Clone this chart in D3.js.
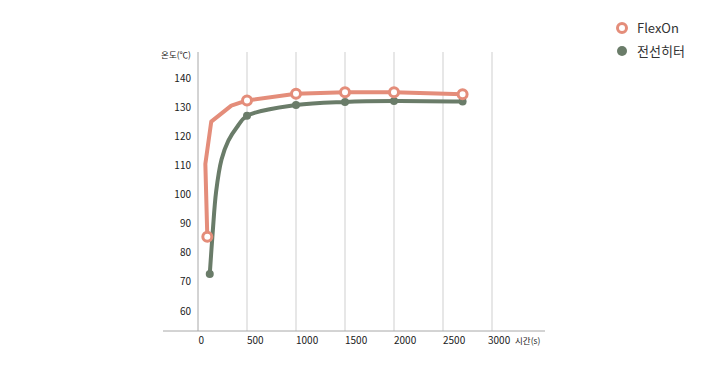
<!DOCTYPE html>
<html><head><meta charset="utf-8">
<script src="https://cdn.jsdelivr.net/npm/d3@7/dist/d3.min.js"></script>
<style>
html,body{margin:0;padding:0;background:#fff;}
svg{display:block;font-family:"Noto Sans CJK KR","Noto Sans",sans-serif;}
</style></head>
<body>
<svg id="chart" width="708" height="380"></svg>
<script>
// ---- data ----
const xTicks = [0, 500, 1000, 1500, 2000, 2500, 3000];
const yTicks = [60, 70, 80, 90, 100, 110, 120, 130, 140];
const seriesNames = ["FlexOn", "전선히터"];
const flexOnLine = [[95, 85.5], [75, 110.5], [135, 125], [340, 130.5], [500, 132.3], [1000, 134.6], [1500, 135.1], [2000, 135.1], [2700, 134.4]];
const flexOnMarkers = [[95, 85.5], [500, 132.3], [1000, 134.6], [1500, 135.1], [2000, 135.1], [2700, 134.4]];
const heaterLine = [[120, 72.7], [150, 87], [185, 101], [240, 112], [310, 118.5], [395, 123], [500, 127], [1000, 130.7], [1500, 131.8], [2000, 132.1], [2700, 131.9]];
const heaterMarkers = [[120, 72.7], [500, 127], [1000, 130.7], [1500, 131.8], [2000, 132.1], [2700, 131.9]];
const yTitle = "온도(℃)";
const xTitle = "시간(s)";

// ---- layout ----
const svg = d3.select("#chart");
const colFlex = "#e48d7a", colHeat = "#6a7c69";
const x = d3.scaleLinear().domain([0, 3000]).range([198, 492]);
const y = d3.scaleLinear().domain([60, 140]).range([311, 78]);
const plotTop = 52, plotBase = 331;

// grid lines
svg.append("g").selectAll("line").data(xTicks.slice(1)).join("line")
  .attr("x1", d => x(d)).attr("x2", d => x(d)).attr("y1", plotTop).attr("y2", plotBase)
  .attr("stroke", "#cfcfcf").attr("stroke-width", 1);
// y axis line
svg.append("line").attr("x1", x(0)).attr("x2", x(0)).attr("y1", plotTop).attr("y2", plotBase)
  .attr("stroke", "#a8a8a8").attr("stroke-width", 1);
// x axis line
svg.append("line").attr("x1", 163).attr("x2", 545).attr("y1", plotBase).attr("y2", plotBase)
  .attr("stroke", "#a8a8a8").attr("stroke-width", 1);

// y tick labels
svg.append("g").selectAll("text").data(yTicks).join("text")
  .attr("x", 191).attr("y", d => y(d)).attr("dy", "0.35em").attr("text-anchor", "end")
  .attr("font-size", 10).attr("fill", "#222").text(d => d);
svg.append("text").attr("x", 191).attr("y", 55).attr("dy", "0.35em").attr("text-anchor", "end")
  .attr("font-size", 8.5).attr("fill", "#222").text(yTitle);

// x tick labels
svg.append("g").selectAll("text").data(xTicks).join("text")
  .attr("x", d => x(d) - (d === 0 ? -0.5 : (d === 3000 ? 4 : 0))).attr("y", 340).attr("dy", "0.35em")
  .attr("text-anchor", "start").attr("font-size", 10).attr("fill", "#222").text(d => d);
svg.append("text").attr("x", 515).attr("y", 341).attr("dy", "0.35em")
  .attr("font-size", 8.5).attr("fill", "#222").text(xTitle);

// lines
const lineLin = d3.line().x(d => x(d[0])).y(d => y(d[1]));
const lineCurve = d3.line().x(d => x(d[0])).y(d => y(d[1])).curve(d3.curveCatmullRom.alpha(0.5));
svg.append("path").datum(heaterLine).attr("d", lineCurve)
  .attr("fill", "none").attr("stroke", colHeat).attr("stroke-width", 4).attr("stroke-linejoin", "round").attr("stroke-linecap", "round");
svg.append("path").datum(flexOnLine).attr("d", lineLin)
  .attr("fill", "none").attr("stroke", colFlex).attr("stroke-width", 4).attr("stroke-linejoin", "round").attr("stroke-linecap", "round");

// markers
svg.append("g").selectAll("circle").data(heaterMarkers).join("circle")
  .attr("cx", d => x(d[0])).attr("cy", d => y(d[1])).attr("r", 4).attr("fill", colHeat);
svg.append("g").selectAll("circle").data(flexOnMarkers).join("circle")
  .attr("cx", d => x(d[0])).attr("cy", d => y(d[1])).attr("r", 4.5)
  .attr("fill", "#fff").attr("stroke", colFlex).attr("stroke-width", 3);

// legend
const lg = svg.append("g");
lg.append("circle").attr("cx", 622).attr("cy", 28).attr("r", 4.5).attr("fill", "#fff").attr("stroke", colFlex).attr("stroke-width", 3);
lg.append("circle").attr("cx", 622).attr("cy", 51).attr("r", 5).attr("fill", colHeat);
lg.selectAll("text").data(seriesNames).join("text")
  .attr("x", 637).attr("y", (d, i) => 28 + i * 23).attr("dy", "0.35em")
  .attr("font-size", 13).attr("fill", "#333").text(d => d);
</script>
</body></html>
